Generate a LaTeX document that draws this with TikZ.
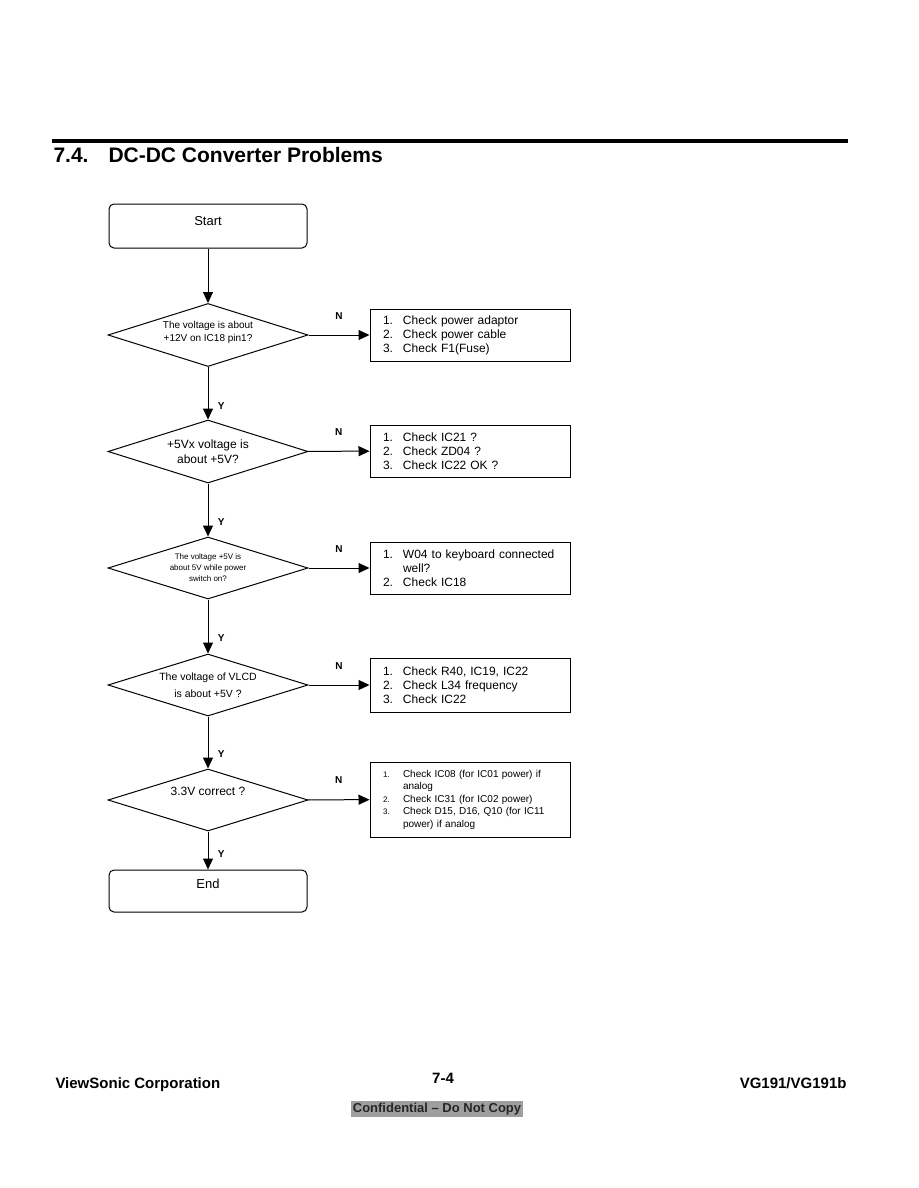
\documentclass[tikz,border=0pt]{standalone}
\usepackage{fontspec}
\setmainfont{Liberation Sans}
\usetikzlibrary{shapes.geometric,arrows.meta}
\begin{document}
\begin{tikzpicture}[x=1pt,y=-1pt,
  line width=1pt,
  termbox/.style={draw, rounded corners=5pt, minimum width=198pt, minimum height=44pt, inner sep=0pt, font=\fontsize{13}{15}\selectfont},
  decision/.style={draw, diamond, aspect=3.125, minimum width=200pt, minimum height=63pt, inner sep=0pt, align=center},
  checkbox/.style={draw, minimum width=200pt, inner xsep=13pt, inner ysep=0pt, text width=174pt, align=left, font=\fontsize{12}{14}\selectfont},
  flow/.style={-{Triangle[length=11pt,width=10pt]}},
  ylab/.style={font=\bfseries\fontsize{10}{11}\selectfont},
  nlab/.style={font=\bfseries\fontsize{10}{11}\selectfont},
  foot/.style={anchor=base, inner sep=0pt, font=\bfseries\fontsize{15}{18}\selectfont}]
\useasboundingbox[fill=white] (0,0) rectangle (918,1188);

% header
\draw[line width=3pt] (52,141) -- (848,141);
\node[anchor=base west, inner sep=0pt, font=\bfseries\fontsize{21}{24}\selectfont] (title) at (53,162) {7.4.\hspace{20pt}DC-DC Converter Problems};

% nodes
\node[termbox] (start) at (208,226) {\raisebox{10pt}{Start}};

\node[decision, font=\fontsize{10}{13}\selectfont] (d1) at (208,335) {\raisebox{7pt}{\shortstack{The voltage is about\\+12V on IC18 pin1?}}};
\node[checkbox, minimum height=52pt] (b1) at (470,335) {\makebox[20pt][l]{1.}Check power adaptor\\\makebox[20pt][l]{2.}Check power cable\\\makebox[20pt][l]{3.}Check F1(Fuse)};

\node[decision, font=\fontsize{12}{15}\selectfont] (d2) at (208,451.5) {+5Vx voltage is\\about +5V?};
\node[checkbox, minimum height=52pt] (b2) at (470,451) {\makebox[20pt][l]{1.}Check IC21 ?\\\makebox[20pt][l]{2.}Check ZD04 ?\\\makebox[20pt][l]{3.}Check IC22 OK ?};

\node[decision, minimum height=62pt, font=\fontsize{8}{11}\selectfont] (d3) at (208,568) {The voltage +5V is\\about 5V while power\\switch on?};
\node[checkbox, minimum height=52pt] (b3) at (470,568) {\makebox[20pt][l]{1.}W04 to keyboard connected\\\hspace*{20pt}well?\\\makebox[20pt][l]{2.}Check IC18};

\node[decision, minimum height=62pt, font=\fontsize{10.5}{17}\selectfont] (d4) at (208,685) {The voltage of VLCD\\is about +5V ?};
\node[checkbox, minimum height=54pt] (b4) at (470,685) {\makebox[20pt][l]{1.}Check R40, IC19, IC22\\\makebox[20pt][l]{2.}Check L34 frequency\\\makebox[20pt][l]{3.}Check IC22};

\node[decision, minimum height=62pt, font=\fontsize{12}{14}\selectfont] (d5) at (208,800) {\raisebox{18pt}{3.3V correct ?}};
\node[checkbox, minimum height=75pt, font=\fontsize{10}{12.5}\selectfont] (b5) at (470,799.5) {\makebox[20pt][l]{\fontsize{8}{10}\selectfont 1.}Check IC08 (for IC01 power) if\\\hspace*{20pt}analog\\\makebox[20pt][l]{\fontsize{8}{10}\selectfont 2.}Check IC31 (for IC02 power)\\\makebox[20pt][l]{\fontsize{8}{10}\selectfont 3.}Check D15, D16, Q10 (for IC11\\\hspace*{20pt}power) if analog};

\node[termbox, minimum height=42pt] (end) at (208,891) {\raisebox{14pt}{End}};

% connectors
\draw[flow] (start) -- (d1);
\draw[flow] (d1) -- node[nlab, midway, above=12pt] {N} (b1);
\draw[flow] (d1) -- node[ylab, pos=0.75, right=6pt] {Y} (d2);
\draw[flow] (d2) -- node[nlab, midway, above=12pt] {N} (b2);
\draw[flow] (d2) -- node[ylab, pos=0.72, right=6pt] {Y} (d3);
\draw[flow] (d3) -- node[nlab, midway, above=12pt] {N} (b3);
\draw[flow] (d3) -- node[ylab, pos=0.72, right=6pt] {Y} (d4);
\draw[flow] (d4) -- node[nlab, midway, above=12pt] {N} (b4);
\draw[flow] (d4) -- node[ylab, pos=0.72, right=6pt] {Y} (d5);
\draw[flow] (d5) -- node[nlab, midway, above=12pt] {N} (b5);
\draw[flow] (d5) -- node[ylab, pos=0.6, right=6pt] {Y} (end);

% footer
\node[foot, anchor=base west] (corp) at (55,1088) {ViewSonic Corporation};
\node[foot] (page) at (443,1083) {7-4};
\node[foot, anchor=base east] (model) at (847,1088) {VG191/VG191b};
\node[fill=black!38, text=black!85, inner xsep=2pt, inner ysep=1.5pt, font=\bfseries\fontsize{13}{14}\selectfont] (conf) at (437,1109) {Confidential -- Do Not Copy};
\end{tikzpicture}
\end{document}
